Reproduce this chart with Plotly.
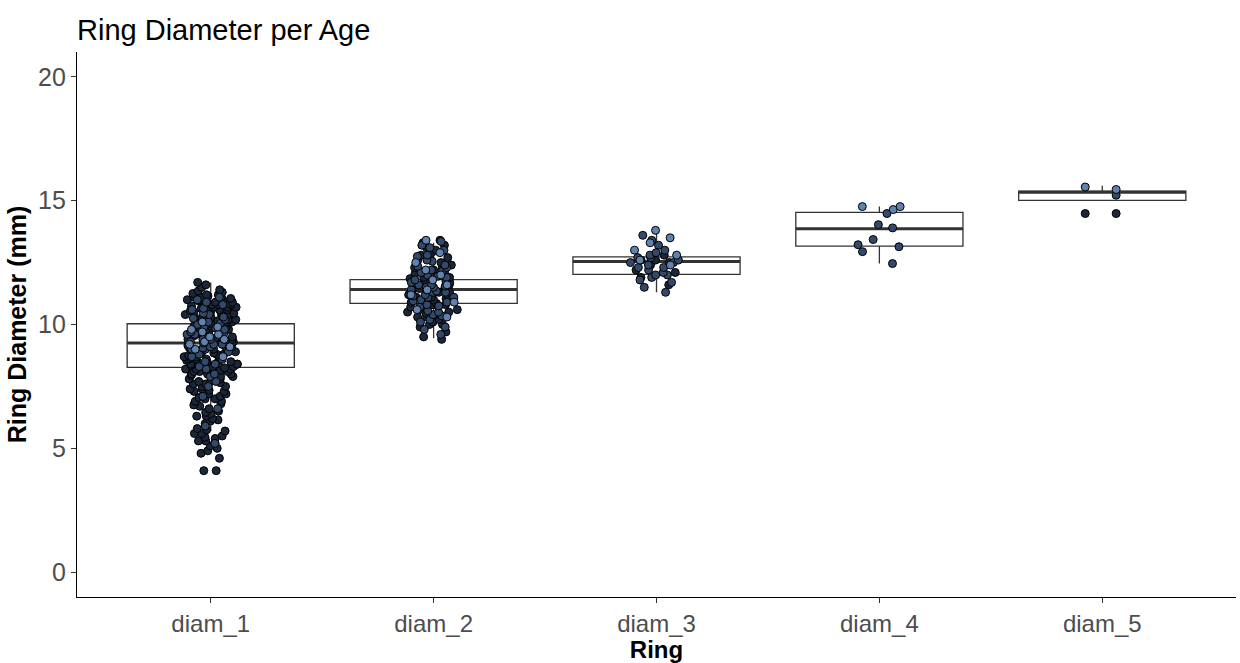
import plotly.graph_objects as go

# ---------------- data ----------------
categories = ["diam_1", "diam_2", "diam_3", "diam_4", "diam_5"]

# box statistics
box_q1 = [8.27, 10.85, 12.02, 13.16, 15.01]
box_median = [9.25, 11.41, 12.54, 13.87, 15.34]
box_q3 = [10.03, 11.81, 12.73, 14.53, 15.38]
box_lower = [5.7, 9.45, 11.3, 12.46, 15.01]
box_upper = [11.7, 13.3, 13.8, 14.76, 15.6]

# individual observations (grouped by colour level: dark / mid / light)
d1_dark = [4.1, 4.1, 4.6, 4.8, 4.9, 5.0, 5.1, 5.2, 5.3, 5.3, 5.4, 5.45, 5.5, 5.6, 5.6,
           5.7, 5.75, 5.8, 6.0, 6.1, 6.15, 6.2, 6.3, 6.3, 6.4, 6.45, 6.5, 6.6, 6.7,
           6.75, 6.8, 6.9, 6.9, 7.0, 7.0, 7.05, 7.1, 7.2, 7.2, 7.3, 7.3, 7.35, 7.4,
           7.4, 7.5, 7.5, 7.6, 7.6, 7.65, 7.7, 7.7, 7.8, 7.8, 7.9, 7.9, 7.95, 8.0,
           8.0, 8.0, 8.05, 8.1, 8.1, 8.1, 8.15, 8.2, 8.2, 8.2, 8.25, 8.3, 8.3, 8.3,
           8.35, 8.4, 8.4, 8.4, 8.45, 8.5, 8.5, 8.5, 8.55, 8.6, 8.6, 8.6, 8.65, 8.7,
           8.7, 8.7, 8.75, 8.8, 8.8, 8.85, 8.9, 8.9, 8.9, 8.95, 9.0, 9.0, 9.05, 9.1,
           9.1, 9.15, 9.2, 9.2, 9.25, 9.3, 9.3, 9.35, 9.4, 9.4, 9.45, 9.5, 9.5, 9.55,
           9.6, 9.6, 9.65, 9.7, 9.7, 9.75, 9.8, 9.8, 9.85, 9.9, 9.9, 9.95, 10.0,
           10.0, 10.0, 10.05, 10.1, 10.1, 10.1, 10.15, 10.2, 10.2, 10.2, 10.25, 10.3,
           10.3, 10.3, 10.35, 10.4, 10.4, 10.4, 10.45, 10.5, 10.5, 10.5, 10.55, 10.6,
           10.6, 10.6, 10.65, 10.7, 10.7, 10.7, 10.75, 10.8, 10.8, 10.8, 10.85, 10.9,
           10.9, 10.9, 10.95, 11.0, 11.0, 11.0, 11.05, 11.1, 11.1, 11.1, 11.15, 11.2,
           11.2, 11.25, 11.3, 11.35, 11.4, 11.5, 11.6, 11.7]
d1_mid = [5.2, 5.9, 6.6, 7.1, 7.5, 7.9, 8.2, 8.4, 8.6, 8.8, 8.9, 9.0, 9.0, 9.1, 9.2,
          9.2, 9.3, 9.4, 9.4, 9.5, 9.6, 9.6, 9.7, 9.8, 9.9, 10.0, 10.1, 10.2, 10.3,
          10.4, 10.6, 10.8, 11.0, 8.3, 8.5, 8.7, 9.05, 9.25, 9.45, 9.65, 9.85, 10.05,
          10.25, 10.45, 10.65, 10.9, 11.1, 7.7, 8.0]
d1_light = [8.7, 9.0, 9.2, 9.3, 9.5, 9.7, 9.9, 10.1, 9.6, 9.4, 9.1, 9.8]

d2_dark = [9.4, 9.5, 9.7, 9.9, 10.0, 10.0, 10.1, 10.2, 10.3, 10.3, 10.4, 10.45, 10.5,
           10.5, 10.6, 10.6, 10.65, 10.7, 10.7, 10.8, 10.8, 10.85, 10.9, 10.9, 11.0,
           11.0, 11.05, 11.1, 11.1, 11.2, 11.2, 11.25, 11.3, 11.3, 11.4, 11.45, 11.5,
           11.5, 11.6, 11.65, 11.7, 11.7, 11.8, 11.85, 11.9, 11.9, 12.0, 12.05, 12.1,
           12.1, 12.2, 12.3, 12.3, 12.4, 12.5, 12.6, 12.7, 12.8, 12.9, 13.0, 13.1,
           13.2, 13.3, 13.4]
d2_mid = [9.6, 9.8, 9.9, 10.1, 10.2, 10.35, 10.4, 10.5, 10.55, 10.7, 10.75, 10.8,
          10.9, 10.95, 11.0, 11.1, 11.1, 11.15, 11.2, 11.3, 11.3, 11.35, 11.4, 11.4,
          11.5, 11.5, 11.55, 11.6, 11.6, 11.7, 11.75, 11.8, 11.9, 11.95, 12.0, 12.1,
          12.15, 12.2, 12.3, 12.35, 12.4, 12.55, 12.6, 12.75, 12.8, 13.0, 13.1, 13.2,
          13.35]
d2_light = [10.3, 10.6, 10.9, 11.2, 11.4, 11.6, 11.8, 12.0, 12.2, 12.5, 12.9, 13.4]

d3_dark = [11.6, 11.9, 12.1, 12.4, 12.6, 12.8, 12.2, 12.5]
d3_mid = [11.3, 11.5, 11.7, 11.8, 11.9, 12.0, 12.0, 12.1, 12.2, 12.3, 12.3, 12.4, 12.5,
          12.5, 12.6, 12.6, 12.7, 12.7, 12.8, 12.9, 13.0, 13.2, 13.4, 13.6]
d3_light = [12.4, 12.6, 12.8, 13.0, 13.5, 13.8, 13.3]

d4_dark = []
d4_mid = [12.46, 12.94, 13.14, 13.22, 13.43, 13.9, 14.03, 14.48]
d4_light = [14.64, 14.76, 14.76]

d5_dark = [14.48, 14.48]
d5_mid = [15.22]
d5_light = [15.45, 15.55]

level_colors = ["#1b2739", "#33496a", "#5f82ae"]

point_groups = [
    ("diam_1", [d1_dark, d1_mid, d1_light]),
    ("diam_2", [d2_dark, d2_mid, d2_light]),
    ("diam_3", [d3_dark, d3_mid, d3_light]),
    ("diam_4", [d4_dark, d4_mid, d4_light]),
    ("diam_5", [d5_dark, d5_mid, d5_light]),
]

# ---------------- figure ----------------
fig = go.Figure()

fig.add_trace(go.Box(
    x=categories, q1=box_q1, median=box_median, q3=box_q3,
    lowerfence=box_lower, upperfence=box_upper,
    width=0.75, whiskerwidth=0, boxpoints=False,
    fillcolor="rgba(0,0,0,0)",
    line=dict(color="#333333", width=1.3),
    showlegend=False, hoverinfo="skip",
))

for cat, levels in point_groups:
    for vals, col in zip(levels, level_colors):
        if not vals:
            continue
        fig.add_trace(go.Box(
            x=[cat] * len(vals), y=vals,
            boxpoints="all", jitter=1, pointpos=0, width=0.24,
            fillcolor="rgba(0,0,0,0)",
            line=dict(color="rgba(0,0,0,0)", width=0),
            marker=dict(color=col, size=8, line=dict(color="black", width=1)),
            showlegend=False, hoveron="points",
        ))

# thicker median lines (ggplot style)
for i, med in enumerate(box_median):
    fig.add_shape(type="line", xref="x", yref="y",
                  x0=i - 0.375, x1=i + 0.375, y0=med, y1=med,
                  line=dict(color="#333333", width=3), layer="below")

fig.update_layout(
    width=1240, height=663,
    paper_bgcolor="white", plot_bgcolor="white",
    margin=dict(l=77, r=4, t=52, b=66),
    boxmode="overlay",
    font=dict(family="Arial, Liberation Sans, sans-serif"),
    title=dict(text="Ring Diameter per Age", x=77 / 1240, xanchor="left",
               y=1 - 30 / 663, yanchor="middle",
               font=dict(size=29, color="black")),
    xaxis=dict(
        type="category", categoryorder="array", categoryarray=categories,
        range=[-0.6, 4.6],
        showline=True, linecolor="black", linewidth=1.2,
        ticks="outside", ticklen=5, tickcolor="#333333", tickwidth=1.2,
        tickfont=dict(size=24, color="#4d4d4d"),
        showgrid=False, zeroline=False,
        title=dict(text="<b>Ring</b>", font=dict(size=24, color="black"), standoff=2),
    ),
    yaxis=dict(
        range=[-1, 21], tickvals=[0, 5, 10, 15, 20],
        showline=True, linecolor="black", linewidth=1.2,
        ticks="outside", ticklen=5, tickcolor="#333333", tickwidth=1.2,
        tickfont=dict(size=25, color="#4d4d4d"),
        showgrid=False, zeroline=False,
        title=dict(text="<b>Ring Diameter (mm)</b>", font=dict(size=25, color="black"), standoff=4),
    ),
)

fig.write_html("out.html", config={"displayModeBar": False},
               post_script="document.body.style.margin='0';document.body.style.overflow='hidden';")
